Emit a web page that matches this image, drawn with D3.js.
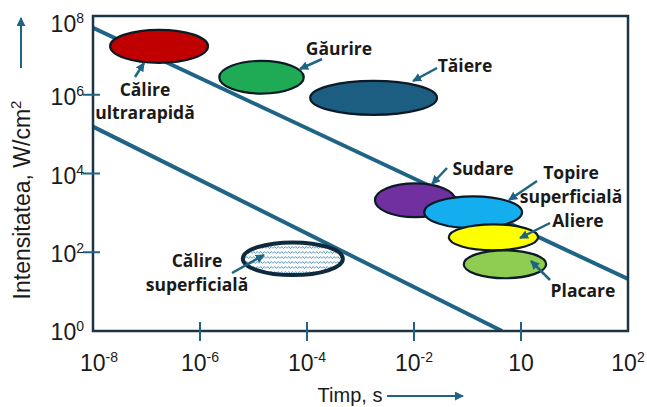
<!DOCTYPE html>
<html>
<head>
<meta charset="utf-8">
<script src="https://cdn.jsdelivr.net/npm/d3@7"></script>
<style>
  html, body { margin: 0; padding: 0; background: #ffffff; }
  svg { display: block; }
</style>
</head>
<body>
<svg id="chart" width="647" height="407"></svg>
<script>
// Process windows on the time / power-density map (exponents of 10)
const processes   = ["Călire ultrarapidă", "Găurire", "Tăiere", "Călire superficială",
                     "Sudare", "Topire superficială", "Aliere", "Placare"];
const timeLoExp   = [-7.68, -5.64, -3.94, -5.20, -2.73, -1.81, -1.35, -1.07];
const timeHiExp   = [-5.85, -4.06, -1.57, -3.33, -1.23,  0.02,  0.32,  0.47];
const intLoExp    = [ 6.81,  6.03,  5.49,  1.42,  2.89,  2.61,  2.05,  1.34];
const intHiExp    = [ 7.65,  6.86,  6.35,  2.25,  3.75,  3.42,  2.71,  2.05];
const fills       = ["#c00000", "#1faa55", "#1b5e82", "pattern",
                     "#7030a0", "#14aeee", "#ffff00", "#8fcd52"];

// Two boundary lines (exponents of 10 at their end points)
const upperLineTimeExp = [-8, 2];
const upperLineIntExp  = [7.70, 1.32];
const lowerLineTimeExp = [-8, -0.355];
const lowerLineIntExp  = [5.19, 0];

// Axis ticks
const xTickExp    = [-8, -6, -4, -2, 0, 2];
const xTickBase   = ["10", "10", "10", "10", "10", "10"];
const xTickSup    = ["-8", "-6", "-4", "-2", "", "2"];
const yTickExp    = [0, 2, 4, 6, 8];
const yTickSup    = ["0", "2", "4", "6", "8"];

// Label placement (pixels) and pointer arrows
const annotations = [
  { lines: ["Călire", "ultrarapidă"], x: 145, y: [96, 119], arrow: [135, 77, 144, 63] },
  { lines: ["Găurire"],               x: 339, y: [55],      arrow: [322, 59, 300, 69] },
  { lines: ["Tăiere"],                x: 465, y: [72],      arrow: [437, 68, 413, 81] },
  { lines: ["Călire", "superficială"], x: 197, y: [267, 291], arrow: [232, 273, 264, 255] },
  { lines: ["Sudare"],                x: 483, y: [175],     arrow: [447, 168, 432, 184] },
  { lines: ["Topire", "superficială"], x: 571, y: [179, 203], arrow: [537, 181, 509, 200] },
  { lines: ["Aliere"],                x: 578, y: [227],     arrow: [550, 223, 520, 238] },
  { lines: ["Placare"],               x: 583, y: [297],     arrow: [550, 280, 531, 261] }
];

const teal = "#1f6484";
const frameColor = "#1d3445";
const svg = d3.select("#chart");

const plotLeft = 93, plotRight = 628, plotTop = 16, plotBottom = 331;
const x = d3.scaleLog().domain([1e-8, 1e2]).range([plotLeft, plotRight]);
const y = d3.scaleLog().domain([1, 1e8]).range([plotBottom, plotTop]);
const p10 = e => Math.pow(10, e);

const defs = svg.append("defs");
defs.append("clipPath").attr("id", "plotClip")
  .append("rect").attr("x", plotLeft).attr("y", plotTop)
  .attr("width", plotRight - plotLeft).attr("height", plotBottom - plotTop);

defs.append("marker").attr("id", "head")
  .attr("viewBox", "0 0 10 10").attr("refX", 9).attr("refY", 5)
  .attr("markerWidth", 9).attr("markerHeight", 9)
  .attr("markerUnits", "userSpaceOnUse").attr("orient", "auto")
  .append("path").attr("d", "M0,0 L10,5 L0,10 Z").attr("fill", teal);

// Zig-zag hatching for the surface hardening window
const pat = defs.append("pattern").attr("id", "zigzag")
  .attr("patternUnits", "userSpaceOnUse").attr("width", 7).attr("height", 5);
pat.append("rect").attr("width", 7).attr("height", 5).attr("fill", "#ffffff");
pat.append("path").attr("d", "M0,3.5 L1.75,1.5 L3.5,3.5 L5.25,1.5 L7,3.5")
  .attr("fill", "none").attr("stroke", "#4a8db5").attr("stroke-width", 0.9);

// Boundary lines
const lineGen = d3.line().x(d => x(p10(d[0]))).y(d => y(p10(d[1])));
const boundaries = [
  d3.zip(upperLineTimeExp, upperLineIntExp),
  d3.zip(lowerLineTimeExp, lowerLineIntExp)
];
svg.append("g").attr("clip-path", "url(#plotClip)")
  .selectAll("path").data(boundaries).join("path")
  .attr("d", lineGen).attr("fill", "none")
  .attr("stroke", teal).attr("stroke-width", 4);

// Process ellipses
svg.append("g").selectAll("ellipse").data(processes).join("ellipse")
  .attr("cx", (d, i) => x(p10((timeLoExp[i] + timeHiExp[i]) / 2)))
  .attr("cy", (d, i) => y(p10((intLoExp[i] + intHiExp[i]) / 2)))
  .attr("rx", (d, i) => (x(p10(timeHiExp[i])) - x(p10(timeLoExp[i]))) / 2)
  .attr("ry", (d, i) => (y(p10(intLoExp[i])) - y(p10(intHiExp[i]))) / 2)
  .attr("fill", (d, i) => fills[i] === "pattern" ? "url(#zigzag)" : fills[i])
  .attr("stroke", (d, i) => fills[i] === "pattern" ? "#0f2a3c" : "#0c1a26")
  .attr("stroke-width", (d, i) => fills[i] === "pattern" ? 4 : 2.2);

// Frame
svg.append("rect").attr("x", plotLeft).attr("y", plotTop)
  .attr("width", plotRight - plotLeft).attr("height", plotBottom - plotTop)
  .attr("fill", "none").attr("stroke", frameColor).attr("stroke-width", 2.5);

// X ticks (crossing the bottom edge)
const xAxis = svg.append("g");
xAxis.selectAll("line").data(xTickExp.slice(1, 5)).join("line")
  .attr("x1", d => x(p10(d))).attr("x2", d => x(p10(d)))
  .attr("y1", plotBottom - 9).attr("y2", plotBottom + 10)
  .attr("stroke", teal).attr("stroke-width", 2);
const xl = xAxis.selectAll("text").data(xTickExp).join("text")
  .attr("x", (d, i) => x(p10(d)) + (i === 0 ? 6 : 0)).attr("y", 371)
  .attr("text-anchor", "middle")
  .attr("font-family", "Liberation Sans, Arial, sans-serif")
  .attr("font-size", 23).attr("fill", "#1a1a1a");
xl.append("tspan").text((d, i) => xTickBase[i]);
xl.append("tspan").attr("dy", -9).attr("font-size", 14).text((d, i) => xTickSup[i]);

// Y ticks (crossing the left edge)
const yAxis = svg.append("g");
yAxis.selectAll("line").data(yTickExp.slice(1, 4)).join("line")
  .attr("y1", d => y(p10(d))).attr("y2", d => y(p10(d)))
  .attr("x1", plotLeft - 10).attr("x2", plotLeft + 7)
  .attr("stroke", teal).attr("stroke-width", 2);
const yl = yAxis.selectAll("text").data(yTickExp).join("text")
  .attr("x", 84).attr("y", d => y(p10(d)) + (d === 8 ? 16 : d === 0 ? 9 : 10))
  .attr("text-anchor", "end")
  .attr("font-family", "Liberation Sans, Arial, sans-serif")
  .attr("font-size", 23).attr("fill", "#1a1a1a");
yl.append("tspan").text("10");
yl.append("tspan").attr("dy", -9).attr("font-size", 14).text((d, i) => yTickSup[i]);

// Axis titles with arrows
const yTitle = svg.append("text")
  .attr("transform", "translate(30,200) rotate(-90)")
  .attr("text-anchor", "middle")
  .attr("font-family", "Liberation Sans, Arial, sans-serif")
  .attr("font-size", 23).attr("fill", "#1a1a1a");
yTitle.append("tspan").text("Intensitatea, W/cm");
yTitle.append("tspan").attr("dy", -9).attr("font-size", 15).text("2");

svg.append("line").attr("x1", 21).attr("y1", 68).attr("x2", 21).attr("y2", 18)
  .attr("stroke", teal).attr("stroke-width", 2).attr("marker-end", "url(#head)");

svg.append("text").attr("x", 350).attr("y", 402).attr("text-anchor", "middle")
  .attr("font-family", "Liberation Sans, Arial, sans-serif")
  .attr("font-size", 20).attr("fill", "#1a1a1a").text("Timp, s");
svg.append("line").attr("x1", 387).attr("y1", 396).attr("x2", 463).attr("y2", 396)
  .attr("stroke", teal).attr("stroke-width", 2).attr("marker-end", "url(#head)");

// Process labels and pointers
const ann = svg.append("g");
annotations.forEach(a => {
  ann.append("line")
    .attr("x1", a.arrow[0]).attr("y1", a.arrow[1])
    .attr("x2", a.arrow[2]).attr("y2", a.arrow[3])
    .attr("stroke", teal).attr("stroke-width", 2.5)
    .attr("marker-end", "url(#head)");
  a.lines.forEach((t, k) => {
    ann.append("text").attr("x", a.x).attr("y", a.y[k])
      .attr("text-anchor", "middle")
      .attr("font-family", "Open Sans, Arial, sans-serif")
      .attr("font-weight", 700).attr("font-size", 17.5)
      .attr("fill", "#1a1a1a").text(t);
  });
});
</script>
</body>
</html>
